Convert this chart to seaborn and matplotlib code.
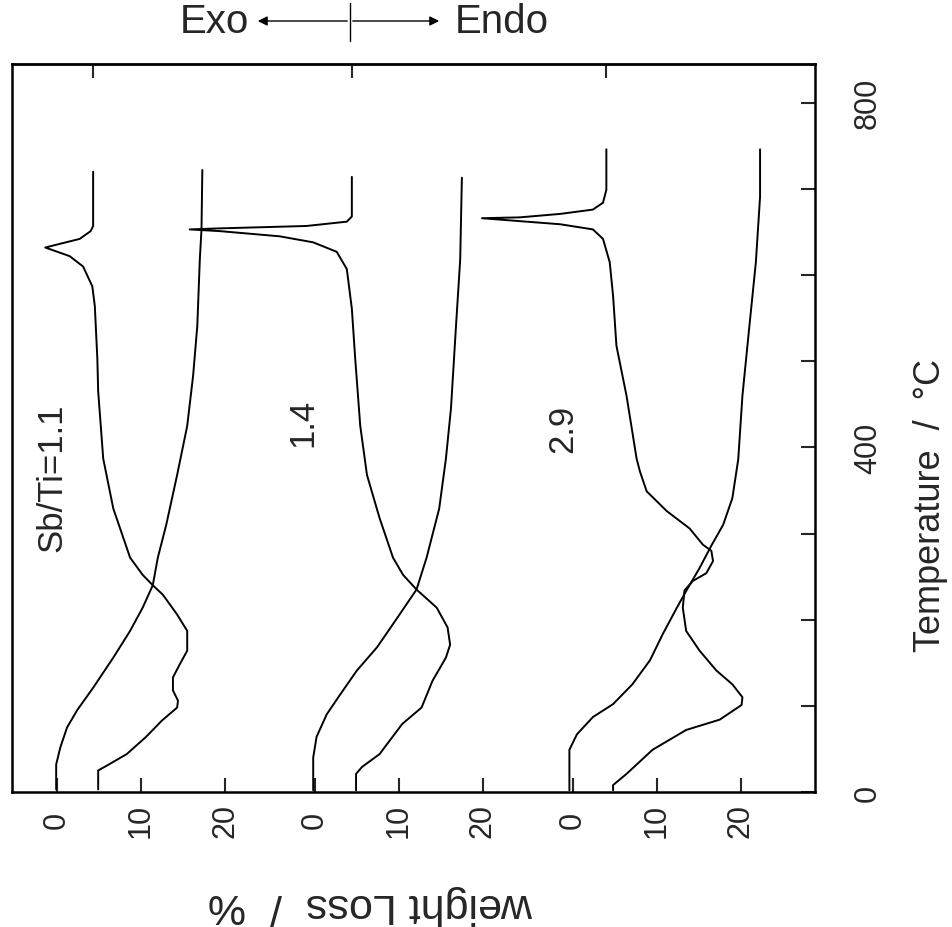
import numpy as np
import pandas as pd
import matplotlib
matplotlib.use("Agg")
import matplotlib.pyplot as plt
import seaborn as sns

# ---------------- data ----------------
group_labels = ["Sb/Ti=1.1", "1.4", "2.9"]
group_offset = [0.0, 30.7, 61.4]          # horizontal offset of each panel (%)
weight_ticks = [0, 10, 20]
temp_ticks = [0, 100, 200, 300, 400, 500, 600, 700, 800]
temp_ticklabels = ["0", "", "", "", "400", "", "", "", "800"]

# Sb/Ti = 1.1
tg1_T = [3, 32, 52, 75, 95, 121, 156, 187, 214, 240, 272, 310, 368, 425, 483, 541, 618, 653, 722]
tg1_w = [-0.1, -0.1, 0.4, 1.2, 2.4, 4.3, 6.7, 8.7, 10.2, 11.4, 12.0, 13.0, 14.3, 15.5, 16.2,
         16.7, 17.0, 17.2, 17.3]
dta1_T = [3, 25, 31, 44, 64, 83, 98, 106, 118, 133, 148, 164, 187, 206, 229, 240, 252, 272,
          329, 387, 465, 503, 564, 587, 610, 622, 632, 642, 651, 657, 720]
dta1_s = [4.9, 4.9, 6.0, 8.3, 10.6, 12.5, 14.3, 14.4, 13.8, 13.8, 14.6, 15.5, 15.5, 14.3, 12.6,
          11.4, 10.2, 8.7, 6.7, 5.5, 4.9, 4.8, 4.5, 4.2, 3.1, 1.5, -1.4, 2.7, 4.0, 4.3, 4.3]

# Sb/Ti = 1.4
tg2_T = [2, 40, 64, 90, 113, 141, 168, 202, 235, 272, 329, 387, 445, 541, 618, 713]
tg2_w = [-0.2, -0.2, 0.2, 1.4, 3.0, 5.0, 7.4, 9.8, 12.1, 13.3, 14.8, 15.6, 16.2, 16.8, 17.3, 17.5]
dta2_T = [2, 21, 29, 44, 79, 98, 129, 156, 171, 191, 214, 235, 252, 272, 318, 368, 425, 503,
          561, 607, 627, 638, 645, 651, 653, 654, 657, 662, 668, 714]
dta2_s = [4.9, 4.9, 5.6, 7.7, 10.4, 12.7, 14.0, 15.6, 16.1, 15.8, 14.5, 12.1, 10.5, 9.3, 7.7,
          6.2, 5.4, 4.8, 4.4, 3.8, 2.6, -0.2, -4.2, -11.3, -14.9, -12.1, -1.0, 3.8, 4.4, 4.4]

# Sb/Ti = 2.9
tg3_T = [2, 49, 67, 87, 102, 125, 153, 183, 214, 235, 260, 286, 310, 341, 386, 460, 538, 615,
         691, 746]
tg3_w = [-0.4, -0.4, 0.5, 2.4, 4.8, 7.1, 9.2, 10.7, 12.4, 13.6, 15.1, 16.5, 17.9, 19.0, 19.7,
         20.2, 21.0, 21.8, 22.3, 22.3]
dta3_T = [2, 8, 21, 49, 72, 84, 101, 110, 125, 141, 164, 187, 214, 234, 245, 254, 268, 280,
          287, 306, 326, 349, 372, 387, 460, 518, 576, 615, 642, 653, 659, 662, 666, 667, 671,
          676, 684, 699, 746]
dta3_s = [4.8, 4.8, 6.4, 9.5, 13.5, 17.5, 20.1, 20.2, 19.0, 17.1, 15.1, 13.5, 13.1, 13.3, 14.3,
          15.9, 16.7, 16.5, 15.5, 13.9, 11.2, 8.8, 8.0, 7.6, 6.4, 5.2, 4.8, 4.4, 3.6, 2.4, -1.5,
          -5.5, -10.8, -6.3, -1.5, 2.4, 3.6, 4.0, 4.0]

dta_baseline = [4.3, 4.4, 4.0]

# ---------------- build table ----------------
curves = [
    ("TG", 0, tg1_T, tg1_w), ("DTA", 0, dta1_T, dta1_s),
    ("TG", 1, tg2_T, tg2_w), ("DTA", 1, dta2_T, dta2_s),
    ("TG", 2, tg3_T, tg3_w), ("DTA", 2, dta3_T, dta3_s),
]
rows = []
for kind, g, T, v in curves:
    for i, (t, val) in enumerate(zip(T, v)):
        rows.append({"curve": f"{kind}{g}", "order": i, "T": t, "x": val + group_offset[g]})
df = pd.DataFrame(rows)

# ---------------- plot ----------------
sns.set_theme(style="ticks")
plt.rcParams["font.family"] = ["Liberation Sans", "DejaVu Sans"]

fig = plt.figure(figsize=(9.53, 9.28), dpi=100)
ax = fig.add_axes([12 / 953, 1 - 793 / 928, (815 - 12) / 953, (793 - 65) / 928])

for name, sub in df.groupby("curve"):
    sns.lineplot(data=sub, x="x", y="T", sort=False, estimator=None,
                 color="black", linewidth=1.4, ax=ax, legend=False,
                 solid_joinstyle="round", solid_capstyle="round")

ax.set_xlim(-5.36, 90.24)
ax.set_ylim(0, 845)

# bottom ticks
xt = [off + w for off in group_offset for w in weight_ticks]
xl = [str(w) for off in group_offset for w in weight_ticks]
ax.set_xticks(xt)
ax.set_xticklabels(xl, rotation=90, va="center", ha="center")
ax.tick_params(axis="x", direction="in", length=10, width=1.5, pad=20, labelsize=22)

# right ticks (temperature)
ax.yaxis.tick_right()
ax.yaxis.set_label_position("right")
ax.set_yticks(temp_ticks)
ax.set_yticklabels(temp_ticklabels, rotation=90, va="center", ha="center")
ax.tick_params(axis="y", direction="in", length=10, width=1.5, pad=38, labelsize=22,
               left=False, right=True)

# top ticks (DTA baselines)
sec = ax.secondary_xaxis("top")
sec.set_xticks([off + b for off, b in zip(group_offset, dta_baseline)])
sec.set_xticklabels([])
sec.tick_params(direction="in", length=10, width=1.5)
sec.spines["top"].set_linewidth(1.8)

for sp in ax.spines.values():
    sp.set_linewidth(1.8)
    sp.set_color("black")

ax.set_xlabel("weight Loss  /  %", rotation=180, fontsize=31)
ax.xaxis.set_label_coords(0.446, -0.126)
ax.set_ylabel("Temperature  /  °C", rotation=90, fontsize=26)
ax.yaxis.set_label_coords(1.122, 0.395)

# sample labels
label_pos = [(-0.6, 366), (29.3, 430), (60.2, 422)]
for lab, (lx, ly) in zip(group_labels, label_pos):
    ax.text(lx, ly, lab, rotation=90, ha="center", va="center", fontsize=25)

# Exo / Endo indicator
fig.text(214 / 953, 1 - 22 / 928, "Exo", ha="center", va="center", fontsize=29)
fig.text(502 / 953, 1 - 22 / 928, "Endo", ha="center", va="center", fontsize=29)
cx, cy = 350 / 953, 1 - 22 / 928
for tx in (255 / 953, 442 / 953):
    fig.add_artist(matplotlib.patches.FancyArrowPatch(
        (cx, cy), (tx, cy), transform=fig.transFigure, arrowstyle="-|>",
        mutation_scale=14, color="black", linewidth=1.0))
fig.add_artist(matplotlib.lines.Line2D([cx, cx], [1 - 4 / 928, 1 - 42 / 928],
                                       transform=fig.transFigure, color="black", linewidth=1.0))

fig.savefig("out.png", dpi=100)
